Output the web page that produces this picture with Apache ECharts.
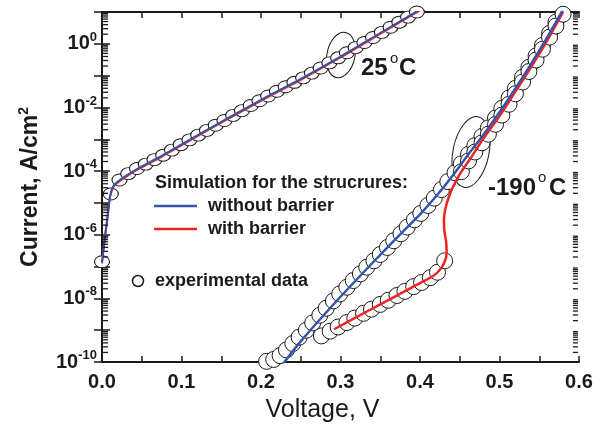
<!DOCTYPE html>
<html>
<head>
<meta charset="utf-8">
<script src="https://cdn.jsdelivr.net/npm/echarts@6/dist/echarts.min.js"></script>
<style>
html, body { margin: 0; padding: 0; background: #fff; }
#chart { width: 602px; height: 428px; }
</style>
</head>
<body>
<div id="chart"></div>
<script>
// values: voltage in V, current as log10(A/cm2)
var sim25V    = [0, 0.0037, 0.0071, 0.0101, 0.0143, 0.0205, 0.03, 0.045, 0.06, 0.075, 0.1, 0.15, 0.2, 0.25, 0.3, 0.35, 0.4];
var sim25Log  = [-6.87, -6.04, -5.41, -4.79, -4.47, -4.32, -4.15, -3.92, -3.72, -3.52, -3.16, -2.45, -1.76, -1.1, -0.4, 0.34, 1.08];
var sim25bLog = [-6.9, -6.08, -5.45, -4.82, -4.5, -4.35, -4.18, -3.95, -3.75, -3.55, -3.19, -2.48, -1.79, -1.13, -0.43, 0.31, 1.05];

var exp25V   = [0, 0.011, 0.022, 0.033, 0.044, 0.055, 0.066, 0.077, 0.088, 0.099, 0.110, 0.121, 0.132, 0.143, 0.154, 0.165, 0.176, 0.187, 0.198,
                0.209, 0.220, 0.231, 0.242, 0.253, 0.264, 0.275, 0.286, 0.297, 0.308, 0.319, 0.330, 0.341, 0.352, 0.363, 0.374, 0.385, 0.396];
var exp25Log = [-6.85, -4.72, -4.28, -4.08, -3.92, -3.78, -3.64, -3.50, -3.34, -3.17, -3.02, -2.87, -2.72, -2.56, -2.41, -2.25, -2.10, -1.94, -1.79,
                -1.64, -1.49, -1.35, -1.21, -1.07, -0.92, -0.76, -0.60, -0.44, -0.28, -0.12, 0.04, 0.20, 0.36, 0.52, 0.68, 0.84, 1.00];

var simColdV   = [0.225, 0.25, 0.30, 0.35, 0.38, 0.40, 0.42, 0.44, 0.46, 0.48, 0.50, 0.52, 0.54, 0.56, 0.58];
var simColdLog = [-10.15, -9.35, -7.95, -6.63, -5.86, -5.36, -4.80, -4.18, -3.50, -2.85, -2.15, -1.40, -0.62, 0.20, 1.08];

var simBarV   = [0.292, 0.32, 0.35, 0.38, 0.40, 0.417, 0.425, 0.4305, 0.4335, 0.4328, 0.4305, 0.4302, 0.4322, 0.4365, 0.442, 0.450, 0.463, 0.48, 0.50, 0.52, 0.54, 0.56, 0.58];
var simBarLog = [-8.97, -8.59, -8.19, -7.79, -7.52, -7.29, -7.10, -6.88, -6.58, -6.2, -5.85, -5.5, -5.15, -4.8, -4.47, -4.1, -3.62, -2.97, -2.27, -1.5, -0.72, 0.1, 1.0];

var expColdV   = [0.207, 0.216, 0.224, 0.232, 0.240, 0.248, 0.257, 0.265, 0.274, 0.282, 0.291, 0.299, 0.308, 0.316, 0.325, 0.333, 0.342, 0.350, 0.359, 0.367, 0.376, 0.384,
                  0.393, 0.401, 0.410, 0.418, 0.427, 0.435, 0.444, 0.452, 0.461, 0.469, 0.478, 0.486, 0.495, 0.503, 0.512, 0.520, 0.529, 0.537, 0.546, 0.554, 0.563, 0.571, 0.580];
var expColdLog = [-9.98, -9.92, -9.8, -9.62, -9.42, -9.22, -9.0, -8.77, -8.53, -8.31, -8.08, -7.86, -7.65, -7.44, -7.23, -7.02, -6.82, -6.62, -6.40, -6.19, -5.97, -5.76,
                  -5.53, -5.33, -5.08, -4.85, -4.58, -4.33, -4.05, -3.77, -3.47, -3.20, -2.91, -2.64, -2.33, -2.03, -1.70, -1.40, -1.05, -0.74, -0.38, -0.05, 0.33, 0.68, 1.08];

var expBarV   = [0.276, 0.287, 0.297, 0.308, 0.318, 0.329, 0.339, 0.350, 0.360, 0.371, 0.381, 0.392, 0.402, 0.413, 0.422, 0.431,
                 0.452, 0.461, 0.469, 0.478, 0.486, 0.495, 0.503, 0.512, 0.520, 0.529, 0.537, 0.546, 0.554, 0.563, 0.571, 0.580];
var expBarLog = [-9.18, -9.03, -8.90, -8.76, -8.62, -8.47, -8.34, -8.19, -8.06, -7.91, -7.78, -7.63, -7.50, -7.35, -7.18, -6.82,
                 -4.02, -3.68, -3.40, -3.11, -2.84, -2.53, -2.24, -1.90, -1.57, -1.20, -0.87, -0.51, -0.17, 0.21, 0.56, 0.93];

// log axis decoration: minor ticks 2..9 in every decade
var decades = [-10, -9, -8, -7, -6, -5, -4, -3, -2, -1, 0];
var minorSteps = [2, 3, 4, 5, 6, 7, 8, 9];

var FONT = '"Liberation Sans", Arial, Helvetica, sans-serif';
var INK = '#1a1a1a';
var BLUE = '#3553a8';
var RED = '#ee2424';

function pairs(xs, logs) {
  return xs.map(function (x, i) { return [x, Math.pow(10, logs[i])]; });
}

// minor tick marks sit just inside the left and right frame
var minorLeft = [], minorRight = [];
decades.forEach(function (d) {
  minorSteps.forEach(function (m) {
    minorLeft.push([0.0045, m * Math.pow(10, d)]);
    minorRight.push([0.5955, m * Math.pow(10, d)]);
  });
});

var chart = echarts.init(document.getElementById('chart'));

var xBase = {
  type: 'value', min: 0, max: 0.6, interval: 0.1,
  axisLine: { show: true, lineStyle: { color: INK, width: 2 } },
  axisTick: { show: true, inside: true, length: 6, lineStyle: { color: INK, width: 1.5 } },
  minorTick: { show: true, splitNumber: 2, length: 6, lineStyle: { color: INK, width: 1.5 } },
  splitLine: { show: false }
};
var yBase = {
  type: 'log', logBase: 10, min: 1e-10, max: 10, interval: 1,
  axisLine: { show: true, lineStyle: { color: INK, width: 2 } },
  axisTick: { show: true, inside: true, length: 8, lineStyle: { color: INK, width: 1.5 } },
  splitLine: { show: false }
};

var circleStyle = { color: '#fff', borderColor: INK, borderWidth: 1, opacity: 1 };
var tickMark = { type: 'scatter', z: 10, silent: true, symbol: 'rect', symbolSize: [5, 1.3], itemStyle: { color: INK, opacity: 1 } };

var option = {
  backgroundColor: '#fff',
  animation: false,
  grid: { left: 102, right: 23, top: 12, bottom: 65 },
  xAxis: [
    Object.assign({}, xBase, {
      position: 'bottom',
      name: 'Voltage, V', nameLocation: 'middle', nameGap: 36,
      nameTextStyle: { fontFamily: FONT, fontSize: 25, color: INK, padding: [0, 36, 0, 0] },
      axisLabel: {
        margin: 10, color: INK, fontFamily: FONT, fontSize: 20, fontWeight: 'bold',
        formatter: function (v) { return v.toFixed(1); }
      }
    }),
    Object.assign({}, xBase, { position: 'top', axisLabel: { show: false } })
  ],
  yAxis: [
    Object.assign({}, yBase, {
      position: 'left',
      name: '{a|Current, A/cm}{b|2}', nameLocation: 'middle', nameRotate: 90, nameGap: 57,
      nameTextStyle: {
        rich: {
          a: { fontFamily: FONT, fontSize: 23, fontWeight: 'bold', color: INK, lineHeight: 28 },
          b: { fontFamily: FONT, fontSize: 14, fontWeight: 'bold', color: INK, verticalAlign: 'top', lineHeight: 14 }
        }
      },
      axisLabel: {
        margin: 5,
        formatter: function (v) {
          var e = Math.round(Math.log10(v));
          if (e % 2 !== 0) return '';
          return '{b|10}{s|' + e + '}';
        },
        rich: {
          b: { fontFamily: FONT, fontSize: 20, fontWeight: 'bold', color: INK, lineHeight: 26, verticalAlign: 'middle' },
          s: { fontFamily: FONT, fontSize: 13, fontWeight: 'bold', color: INK, lineHeight: 14, verticalAlign: 'top' }
        }
      }
    }),
    Object.assign({}, yBase, { position: 'right', axisLabel: { show: false } })
  ],
  series: [
    Object.assign({}, tickMark, { data: minorLeft }),
    Object.assign({}, tickMark, { data: minorRight }),
    {
      name: 'experimental data 25', type: 'scatter', z: 2, symbol: 'circle', symbolSize: [15, 12],
      itemStyle: circleStyle, data: pairs(exp25V, exp25Log)
    },
    {
      name: 'experimental data -190', type: 'scatter', z: 2, symbol: 'circle', symbolSize: 16,
      itemStyle: circleStyle, data: pairs(expColdV, expColdLog)
    },
    {
      name: 'experimental data -190 barrier', type: 'scatter', z: 2, symbol: 'circle', symbolSize: 16,
      itemStyle: circleStyle, data: pairs(expBarV, expBarLog)
    },
    {
      name: 'with barrier 25', type: 'line', z: 3, smooth: 0.3, showSymbol: false,
      lineStyle: { color: RED, width: 2 }, data: pairs(sim25V, sim25bLog)
    },
    {
      name: 'without barrier 25', type: 'line', z: 4, smooth: 0.3, showSymbol: false,
      lineStyle: { color: BLUE, width: 2 }, data: pairs(sim25V, sim25Log)
    },
    {
      name: 'with barrier -190', type: 'line', z: 3, smooth: 0.3, showSymbol: false,
      lineStyle: { color: RED, width: 2.5 }, data: pairs(simBarV, simBarLog)
    },
    {
      name: 'without barrier -190', type: 'line', z: 4, smooth: 0.3, showSymbol: false,
      lineStyle: { color: BLUE, width: 2.5 }, data: pairs(simColdV, simColdLog)
    }
  ],
  graphic: [
    { type: 'text', x: 155, y: 183, style: { text: 'Simulation for the strucrures:', font: 'bold 18px ' + FONT, fill: INK, verticalAlign: 'middle' } },
    { type: 'line', shape: { x1: 154, y1: 206, x2: 197, y2: 206 }, style: { stroke: BLUE, lineWidth: 2.5 } },
    { type: 'text', x: 208, y: 206, style: { text: 'without barrier', font: 'bold 18px ' + FONT, fill: INK, verticalAlign: 'middle' } },
    { type: 'line', shape: { x1: 154, y1: 229, x2: 197, y2: 229 }, style: { stroke: RED, lineWidth: 2.5 } },
    { type: 'text', x: 208, y: 229, style: { text: 'with barrier', font: 'bold 18px ' + FONT, fill: INK, verticalAlign: 'middle' } },
    { type: 'circle', shape: { cx: 138, cy: 281, r: 5.5 }, style: { fill: '#fff', stroke: INK, lineWidth: 1.5 } },
    { type: 'text', x: 155, y: 281, style: { text: 'experimental data', font: 'bold 18px ' + FONT, fill: INK, verticalAlign: 'middle' } },

    { type: 'ellipse', x: 341, y: 55, rotation: -0.2, shape: { cx: 0, cy: 0, rx: 14, ry: 23 }, style: { fill: 'none', stroke: INK, lineWidth: 1 } },
    { type: 'ellipse', x: 471, y: 152, rotation: -0.2, shape: { cx: 0, cy: 0, rx: 18, ry: 36 }, style: { fill: 'none', stroke: INK, lineWidth: 1 } },

    { type: 'text', x: 361, y: 68, style: { text: '25', font: 'bold 24px ' + FONT, fill: INK, verticalAlign: 'middle' } },
    { type: 'text', x: 390, y: 59, style: { text: 'o', font: '15px ' + FONT, fill: INK, verticalAlign: 'middle' } },
    { type: 'text', x: 399, y: 68, style: { text: 'C', font: 'bold 24px ' + FONT, fill: INK, verticalAlign: 'middle' } },
    { type: 'text', x: 488, y: 188, style: { text: '-190', font: 'bold 24px ' + FONT, fill: INK, verticalAlign: 'middle' } },
    { type: 'text', x: 538, y: 178, style: { text: 'o', font: '15px ' + FONT, fill: INK, verticalAlign: 'middle' } },
    { type: 'text', x: 549, y: 188, style: { text: 'C', font: 'bold 24px ' + FONT, fill: INK, verticalAlign: 'middle' } }
  ]
};

chart.setOption(option);
</script>
</body>
</html>
